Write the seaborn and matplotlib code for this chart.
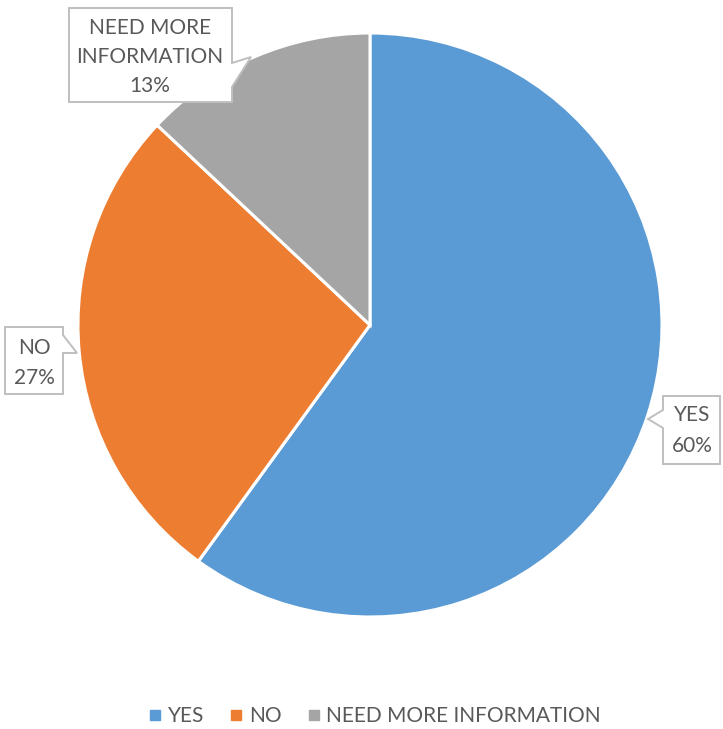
import matplotlib
matplotlib.use("Agg")
import matplotlib.pyplot as plt
from matplotlib.patches import Polygon
from matplotlib.lines import Line2D
import seaborn as sns

# Survey responses
categories = ["YES", "NO", "NEED MORE INFORMATION"]
shares = [60, 27, 13]
colors = ["#5B9BD5", "#ED7D31", "#A5A5A5"]

sns.set_theme(style="white")
plt.rcParams["font.family"] = ["Lato", "DejaVu Sans"]

W, H = 723, 729
fig = plt.figure(figsize=(W / 100, H / 100), dpi=100)
fig.patch.set_facecolor("white")

def fx(x):
    return x / W

def fy(y):
    return 1 - y / H

# Pie centred at (370, 325) px with radius 292 px
cx, cy, r = 370, 325, 292
ax = fig.add_axes([fx(cx - r), fy(cy + r), 2 * r / W, 2 * r / H])
ax.pie(shares, colors=colors, startangle=90, counterclock=False,
       wedgeprops=dict(edgecolor="white", linewidth=2.2))
ax.set_xlim(-1, 1)
ax.set_ylim(-1, 1)
ax.set_aspect("auto")
ax.axis("off")

text_color = "#595959"
edge_color = "#BFBFBF"
fs = 15

def callout(points, lines, x_center, y_lines):
    poly = Polygon([(fx(x), fy(y)) for x, y in points], closed=True,
                   facecolor="white", edgecolor=edge_color, linewidth=1.4,
                   transform=fig.transFigure, zorder=5)
    fig.patches.append(poly)
    for txt, yy in zip(lines, y_lines):
        fig.text(fx(x_center), fy(yy), txt, ha="center", va="center",
                 fontsize=fs, color=text_color, zorder=6)

# YES
callout([(663, 396), (720, 396), (720, 464), (663, 464), (663, 428),
         (648, 419), (663, 410)],
        ["YES", f"{shares[0]}%"], 692, [415, 446])
# NO
callout([(5, 327), (63, 327), (63, 335), (77, 353), (63, 353),
         (63, 394), (5, 394)],
        ["NO", f"{shares[1]}%"], 34, [348, 378])
# NEED MORE INFORMATION
callout([(69, 8), (232, 8), (232, 63), (251, 57), (232, 87),
         (232, 102), (69, 102)],
        ["NEED MORE", "INFORMATION", f"{shares[2]}%"], 150, [28, 57, 86])

handles = [Line2D([0], [0], marker="s", linestyle="none", markersize=7,
                  markerfacecolor=c, markeredgecolor=c) for c in colors]
fig.legend(handles, categories, loc="center", ncol=3,
           bbox_to_anchor=(fx(374), fy(716)), frameon=False,
           fontsize=fs, labelcolor=text_color, handletextpad=0.2,
           columnspacing=1.15, handlelength=0.8)

fig.savefig("out.png", dpi=100, facecolor="white")
